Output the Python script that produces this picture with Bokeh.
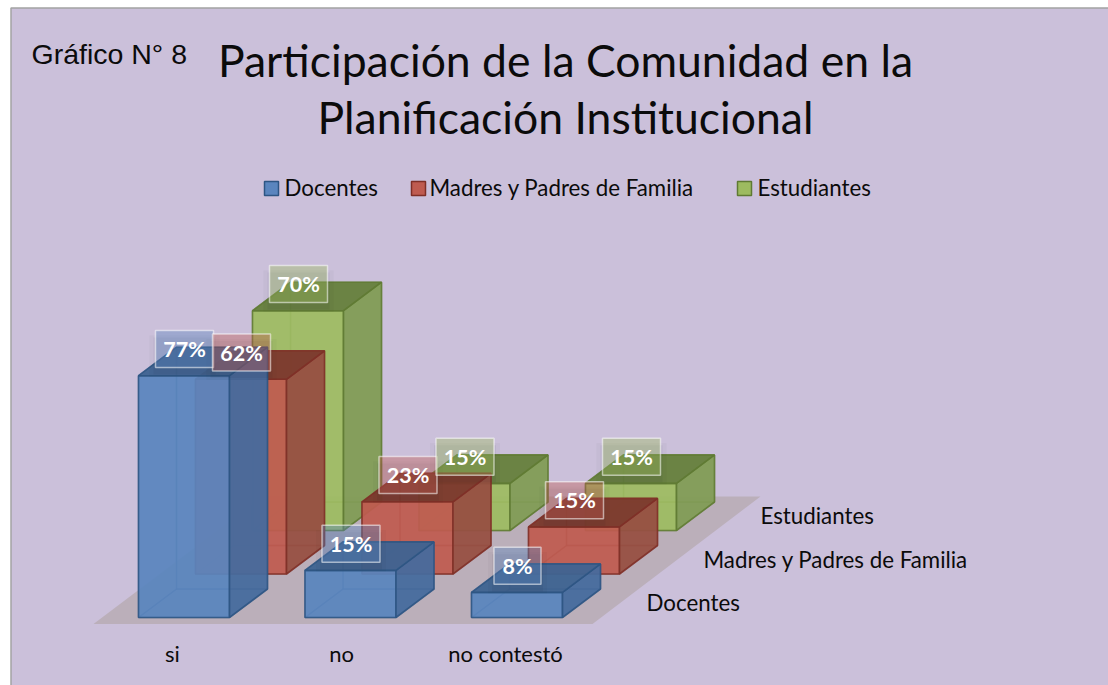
from bokeh.plotting import figure
from bokeh.models import Range1d, ColumnDataSource
from bokeh.core.properties import value
from bokeh.embed import file_html
from bokeh.resources import INLINE

categories = ["si", "no", "no contestó"]
series_names = ["Docentes", "Madres y Padres de Familia", "Estudiantes"]
docentes = [77, 15, 8]
madres = [62, 23, 15]
estudiantes = [70, 15, 15]
series_values = [docentes, madres, estudiantes]
title_lines = ["Participación de la Comunidad en la", "Planificación Institucional"]
side_note = "Gráfico N° 8"

BG = "#cbc0da"
front_col = ["#5a85be", "#bf5b50", "#9dbb60"]
side_col = ["#456a9c", "#964f42", "#809b55"]
top_col = ["#3f6391", "#7b382d", "#667f3d"]
edge_col = ["#2d5583", "#7f2f27", "#5f7a33"]

# projection of the 3D chart space onto the picture
X0, Y0 = 138.0, 617.0
BAR_W = 91.0
CAT_STEP = 166.5
SER_DX, SER_DY = 57.0, -43.5
DEPTH_DX, DEPTH_DY = 38.0, -28.5
PX_PER_PCT = 3.14

W, H = 1108, 685
p = figure(width=W, height=H, x_range=Range1d(0, W), y_range=Range1d(H, 0),
           output_backend="svg", toolbar_location=None, min_border=0,
           background_fill_color="white", border_fill_color="white", outline_line_color=None)
p.xaxis.visible = False
p.yaxis.visible = False
p.xgrid.visible = False
p.ygrid.visible = False

# chart area
p.quad(left=[10.5], right=[1120], top=[7.5], bottom=[700], fill_color=BG,
       line_color="#a3a3a3", line_width=1.5)


def proj(c, s, v, d=0.0, w=0.0):
    """category index, series index, value, depth fraction, width fraction -> picture x, y"""
    x = X0 + c * CAT_STEP + s * SER_DX + d * DEPTH_DX + w * BAR_W
    y = Y0 + s * SER_DY + d * DEPTH_DY - v * PX_PER_PCT
    return x, y


# floor
fx = [X0 - 45, X0 + 2 * CAT_STEP + BAR_W + 30,
      X0 + 2 * CAT_STEP + BAR_W + 30 + 168, X0 - 45 + 169]
fy = [Y0 + 6.5, Y0 + 6.5, Y0 - 121, Y0 - 121]
p.patch(fx, fy, fill_color="#bbafba", line_color=None)

# bars, back row first
for s in (2, 1, 0):
    for c in range(len(categories)):
        v = series_values[s][c]
        corners = {
            "bl": proj(c, s, 0), "br": proj(c, s, 0, w=1),
            "tl": proj(c, s, v), "tr": proj(c, s, v, w=1),
            "bl2": proj(c, s, 0, d=1), "br2": proj(c, s, 0, d=1, w=1),
            "tl2": proj(c, s, v, d=1), "tr2": proj(c, s, v, d=1, w=1),
        }

        def face(*names):
            return [corners[n][0] for n in names], [corners[n][1] for n in names]

        # inner faces
        for names in (("bl", "br", "br2", "bl2"), ("bl2", "br2", "tr2", "tl2"), ("bl", "bl2", "tl2", "tl")):
            xs, ys = face(*names)
            p.patch(xs, ys, fill_color=front_col[s], fill_alpha=0.30,
                    line_color=edge_col[s], line_alpha=0.45, line_width=1.4)
        for names, col, a in ((("bl", "br", "tr", "tl"), front_col[s], 0.90),
                              (("br", "br2", "tr2", "tr"), side_col[s], 0.92),
                              (("tl", "tr", "tr2", "tl2"), top_col[s], 0.94)):
            xs, ys = face(*names)
            p.patch(xs, ys, fill_color=col, fill_alpha=a,
                    line_color=edge_col[s], line_alpha=0.85, line_width=1.6)

# data labels
LAB_W, LAB_H = 58, 37
lx, ly, lt, lw, lc, ls = [], [], [], [], [], []
for s in range(3):
    for c in range(len(categories)):
        v = series_values[s][c]
        x, y = proj(c, s, v, d=0.5, w=0.5)
        lx.append(x - 18.5)
        ly.append(y - 12.5)
        ls.append(y - 5.5)
        lt.append(f"{v}%")
        lw.append(LAB_W if v >= 10 else 47)
        lc.append(front_col[s])
lab = ColumnDataSource(dict(x=lx, y=ly, ys=ls, t=lt, w=lw, c=lc,
                            w1=[a + 4 for a in lw], w2=[a + 12 for a in lw]))
# soft shadow under the label boxes
p.rect("x", "ys", width="w2", height=LAB_H + 4, source=lab, fill_color="#1a1a2a", fill_alpha=0.03, line_color=None)
p.rect("x", "ys", width="w1", height=LAB_H, source=lab, fill_color="#1a1a2a", fill_alpha=0.05, line_color=None)
p.rect("x", "y", width="w", height=LAB_H, source=lab,
       fill_color="c", fill_alpha=0.40, line_color="white", line_alpha=0.55, line_width=1.5)
p.text("x", "y", text="t", source=lab, text_color="white", text_font=value("Lato"),
       text_font_style="bold", text_font_size="21.5px", text_align="center", text_baseline="middle")

# titles
p.text([565, 565], [59, 116], text=title_lines, text_font=value("Lato"), text_font_size="44.5px",
       text_color="#0b0b0b", text_align="center", text_baseline="middle")
p.text([31], [53], text=[side_note], text_font=value("Liberation Sans"), text_font_size="28.5px",
       text_color="#0b0b0b", text_align="left", text_baseline="middle")

# legend
swatch_x = [271, 418, 744]
legend_text_x = [284, 429, 757]
p.rect(swatch_x, [188] * 3, width=14, height=14, fill_color=front_col,
       line_color=edge_col, line_width=1.5)
p.text(legend_text_x, [187] * 3, text=series_names, text_font=value("Lato"), text_font_size="22.3px",
       text_color="#0b0b0b", text_align="left", text_baseline="middle")

# category labels
p.text([172, 341, 505], [653] * 3, text=categories, text_font=value("Lato"), text_font_size="22px",
       text_color="#0b0b0b", text_align="center", text_baseline="middle")

# depth axis labels
for s, name in enumerate(series_names):
    p.text([646 + s * SER_DX], [602 + s * SER_DY], text=[name], text_font=value("Lato"),
           text_font_size="22.3px", text_color="#0b0b0b", text_align="left", text_baseline="middle")

open("out.html", "w").write(file_html(p, INLINE))
